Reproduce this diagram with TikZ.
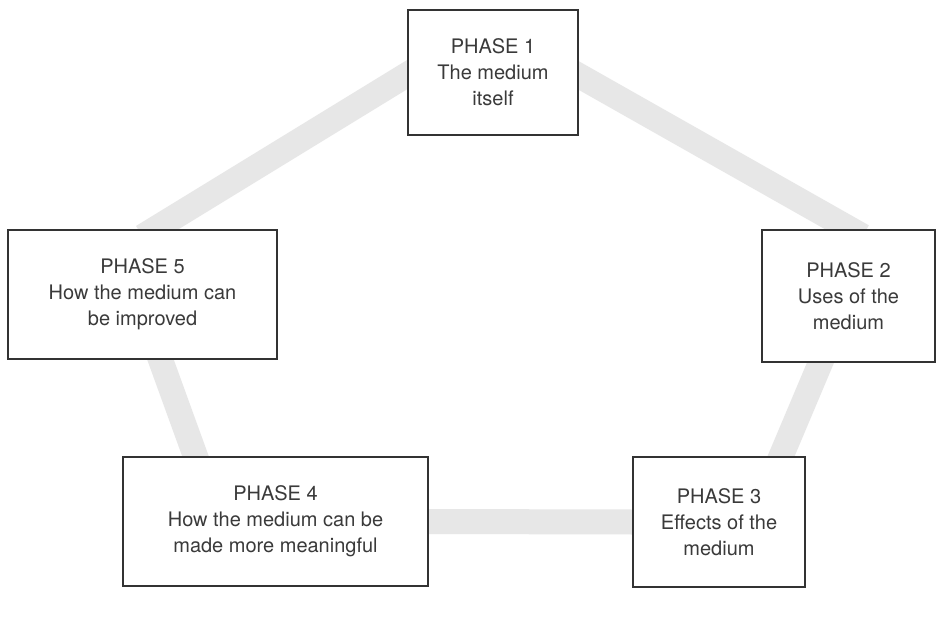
\documentclass[tikz,border=0pt]{standalone}
\usepackage{fontspec}
\setmainfont{TeX Gyre Heros}
\usetikzlibrary{calc,backgrounds}
\definecolor{bandgray}{HTML}{E7E7E7}
\definecolor{boxline}{HTML}{333333}
\definecolor{txtcol}{HTML}{3A3A3A}
\tikzset{
  phase/.style={draw=boxline, line width=1.4pt, fill=white, align=center,
    font=\fontsize{20}{26}\selectfont, text=txtcol, inner sep=0pt},
  band/.style={draw=bandgray, line width=25pt, line cap=butt,
    shorten <=-14pt, shorten >=-14pt}
}
\begin{document}
\begin{tikzpicture}[x=1pt,y=-1pt]
\useasboundingbox (0,0) rectangle (944,617);
\node[phase, minimum width=170pt, minimum height=125pt] (p1) at (493,72.5) {PHASE 1\\The medium\\itself};
\node[phase, minimum width=173pt, minimum height=132pt] (p2) at (848.5,296) {PHASE 2\\Uses of the\\medium};
\node[phase, minimum width=172pt, minimum height=130pt] (p3) at (719,522) {PHASE 3\\Effects of the\\medium};
\node[phase, minimum width=305pt, minimum height=129pt] (p4) at (275.5,521.5) {PHASE 4\\How the medium can be\\made more meaningful};
\node[phase, minimum width=269pt, minimum height=129pt] (p5) at (142.5,294.5) {PHASE 5\\How the medium can\\be improved};
\begin{scope}[on background layer]
  \fill[white] (0,0) rectangle (944,617);
  \draw[band] ($(p5.north)+(12,0)$) -- ($(p1.west)+(0,2)$);
  \draw[band] ($(p1.east)+(0,3)$) -- ($(p2.north)+(2,0)$);
  \draw[band] ($(p2.south)+(-28,0)$) -- ($(p3.north)+(62,0)$);
  \draw[band] (p4.east) -- (p3.west);
  \draw[band] ($(p5.south)+(18,0)$) -- ($(p4.north)+(-80,0)$);
\end{scope}
\end{tikzpicture}
\end{document}
